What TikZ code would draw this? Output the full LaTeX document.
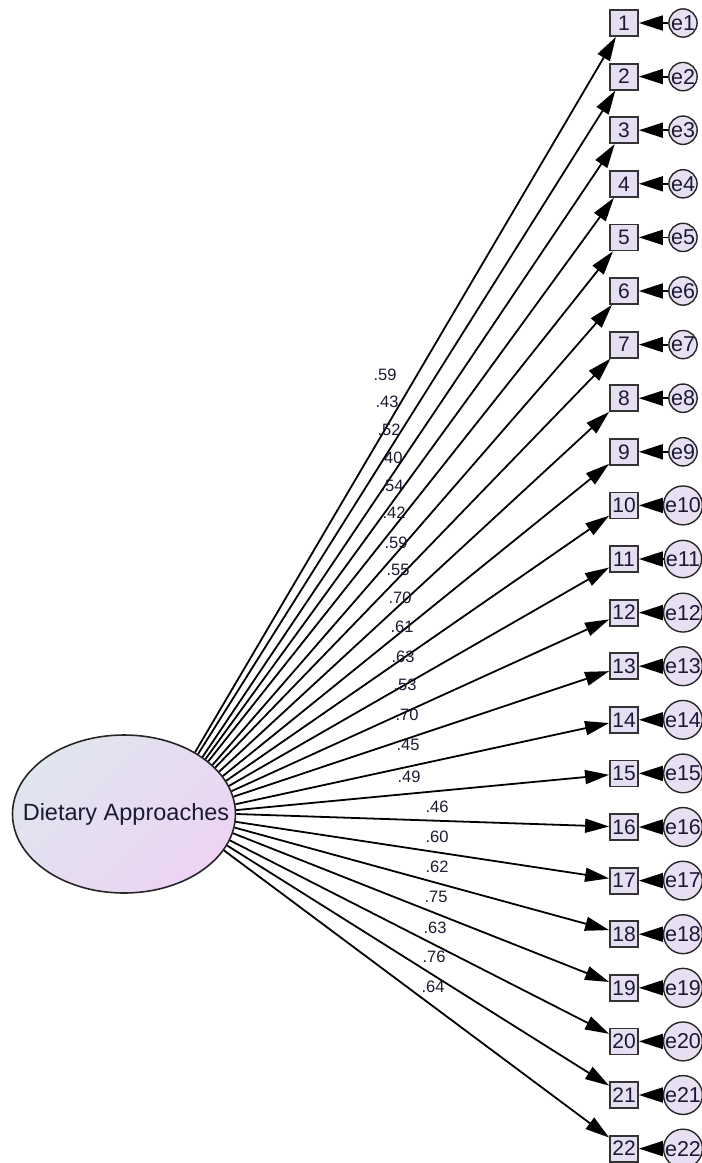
\documentclass[tikz,border=0pt]{standalone}
\usepackage{fontspec}
\setmainfont{Liberation Sans}
\usetikzlibrary{shapes.geometric,arrows.meta}
\definecolor{boxfill}{HTML}{E6DEF2}
\definecolor{errfill}{HTML}{E8E0F2}
\definecolor{latA}{HTML}{E0E5EF}
\definecolor{latB}{HTML}{ECD4F2}
\definecolor{textc}{HTML}{1A1A33}
\begin{document}
\begin{tikzpicture}[x=1pt,y=-1pt,
  latent/.style={ellipse, draw=black!85, line width=1.6pt, minimum width=223pt, minimum height=158pt, inner sep=0pt,
    top color=latA, bottom color=latB, shading angle=45},
  obs/.style={draw=black!80, line width=1.8pt, fill=boxfill, minimum width=28pt, minimum height=26pt, inner sep=0pt,
    font=\fontsize{21}{21}\selectfont, text=textc},
  err/.style={circle, draw=black!85, line width=1.4pt, fill=errfill, minimum size=26pt, inner sep=0pt,
    font=\fontsize{21.5}{21.5}\selectfont, text=textc},
  load/.style={line width=1.8pt, -{Triangle[length=24pt,width=14pt]}},
  erra/.style={line width=1.8pt, -{Triangle[length=24pt,width=15pt]}},
  lbl/.style={font=\fontsize{16.5}{16.5}\selectfont, text=textc, inner sep=0pt}]
\useasboundingbox (0,0) rectangle (702,1163);
\clip (0,0) rectangle (702,1163);
\node[latent] (L) at (124,814) {};
\node[font=\fontsize{23.5}{24}\selectfont, text=textc, inner sep=0pt] (Lt) at (126,814) {Dietary Approaches};
\foreach \i in {1,...,22} {
  \pgfmathsetmacro{\yy}{23+(\i-1)*53.6}
  \pgfmathsetmacro{\p}{atan2(0.55*(814-\yy),500)}
  \node[obs] (b\i) at (624,\yy) {\i};
  \node[err] (e\i) at (683,\yy) {e\i};
  \draw[erra] (e\i) -- (b\i);
  \draw[load] (L.\p) -- (b\i);
}
\foreach \i/\v/\lx/\ly in {1/.59/385/375, 2/.43/387/402, 3/.52/389/430, 4/.40/391/458, 5/.54/392/486,
  6/.42/394/513, 7/.59/396/543, 8/.55/398/570, 9/.70/400/598, 10/.61/402/627, 11/.63/403/657,
  12/.53/405/685, 13/.70/407/715, 14/.45/408/745, 15/.49/409/777, 16/.46/437/807, 17/.60/437/837,
  18/.62/437/867, 19/.75/436/897, 20/.63/435/928, 21/.76/434/957, 22/.64/433/987} {
  \node[lbl] (l\i) at (\lx,\ly) {\v};
}
\end{tikzpicture}
\end{document}
